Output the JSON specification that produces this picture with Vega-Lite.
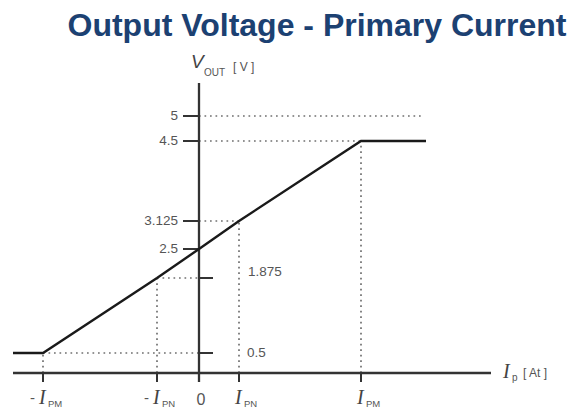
{
  "$schema": "https://vega.github.io/schema/vega-lite/v6.json",
  "autosize": "none",
  "width": 578,
  "height": 366,
  "padding": {"top": 48, "left": 0, "right": 0, "bottom": 0},
  "background": "white",
  "config": {"view": {"stroke": null}, "text": {"font": "Liberation Sans", "color": "#555555"}},
  "title": {
    "text": "Output Voltage - Primary Current",
    "anchor": "middle",
    "frame": "group",
    "dx": 28,
    "offset": -20,
    "baseline": "alphabetic",
    "font": "Liberation Sans",
    "fontSize": 32,
    "fontWeight": "bold",
    "color": "#1c4172"
  },
  "encoding": {
    "x": {"field": "x", "type": "quantitative", "axis": null,
      "scale": {"domain": [-4.8, -4, -1, 0, 1, 4, 7.2], "range": [13, 43, 157, 199, 239, 361, 491], "nice": false, "zero": false}},
    "y": {"field": "y", "type": "quantitative", "axis": null,
      "scale": {"domain": [0, 0.5, 1.875, 2.5, 3.125, 4.5, 5], "range": [325, 305, 230, 201, 173, 93, 68], "nice": false, "zero": false}}
  },
  "layer": [
    {
      "data": {"values": [
        {"x": 0, "x2": 5.5, "y": 5, "y2": 5},
        {"x": 0, "x2": 4, "y": 4.5, "y2": 4.5},
        {"x": 4, "x2": 4, "y": 0, "y2": 4.5},
        {"x": 0, "x2": 1, "y": 3.125, "y2": 3.125},
        {"x": 1, "x2": 1, "y": 0, "y2": 3.125},
        {"x": -1, "x2": 0, "y": 1.875, "y2": 1.875},
        {"x": -1, "x2": -1, "y": 0, "y2": 1.875},
        {"x": -4, "x2": 0, "y": 0.5, "y2": 0.5},
        {"x": -4, "x2": -4, "y": 0, "y2": 0.5}
      ]},
      "mark": {"type": "rule", "color": "#707070", "strokeWidth": 1.7, "strokeDash": [1.7, 3.8]},
      "encoding": {"x2": {"field": "x2"}, "y2": {"field": "y2"}}
    },
    {
      "data": {"values": [
        {"x": -4.8, "x2": 7.2, "y": 0, "y2": 0},
        {"x": 0, "x2": 0, "y": -0.225, "y2": 5.66}
      ]},
      "mark": {"type": "rule", "color": "#333333", "strokeWidth": 2.3},
      "encoding": {"x2": {"field": "x2"}, "y2": {"field": "y2"}}
    },
    {
      "data": {"values": [{"x": 0, "y": 2.5}, {"x": 0, "y": 3.125}, {"x": 0, "y": 4.5}, {"x": 0, "y": 5}]},
      "mark": {"type": "tick", "orient": "horizontal", "size": 16, "thickness": 2, "xOffset": -8, "color": "#333333", "opacity": 1}
    },
    {
      "data": {"values": [{"x": 0, "y": 0.5}, {"x": 0, "y": 1.875}]},
      "mark": {"type": "tick", "orient": "horizontal", "size": 14, "thickness": 2, "xOffset": 7, "color": "#333333", "opacity": 1}
    },
    {
      "data": {"values": [{"x": -4, "y": 0}, {"x": -1, "y": 0}, {"x": 0, "y": 0}, {"x": 1, "y": 0}, {"x": 4, "y": 0}]},
      "mark": {"type": "tick", "orient": "vertical", "size": 9, "thickness": 2, "yOffset": 4.5, "color": "#333333", "opacity": 1}
    },
    {
      "data": {"values": [
        {"x": -4.8, "y": 0.5},
        {"x": -4, "y": 0.5},
        {"x": -1, "y": 1.875},
        {"x": 0, "y": 2.5},
        {"x": 1, "y": 3.125},
        {"x": 4, "y": 4.5},
        {"x": 5.6, "y": 4.5}
      ]},
      "mark": {"type": "line", "color": "#1a1a1a", "strokeWidth": 2.4}
    },
    {
      "data": {"values": [
        {"x": 0, "y": 5, "label": "5"},
        {"x": 0, "y": 4.5, "label": "4.5"},
        {"x": 0, "y": 3.125, "label": "3.125"},
        {"x": 0, "y": 2.5, "label": "2.5"}
      ]},
      "mark": {"type": "text", "align": "right", "baseline": "middle", "dx": -21, "fontSize": 13.5},
      "encoding": {"text": {"field": "label"}}
    },
    {
      "data": {"values": [{"x": 0, "y": 1.875, "label": "1.875"}]},
      "mark": {"type": "text", "align": "left", "baseline": "middle", "dx": 49, "dy": -6, "fontSize": 13.5},
      "encoding": {"text": {"field": "label"}}
    },
    {
      "data": {"values": [{"x": 0, "y": 0.5, "label": "0.5"}]},
      "mark": {"type": "text", "align": "left", "baseline": "middle", "dx": 48, "dy": 0, "fontSize": 13.5},
      "encoding": {"text": {"field": "label"}}
    },
    {
      "data": {"values": [{"x": -4, "y": 0}, {"x": -1, "y": 0}, {"x": 1, "y": 0}, {"x": 4, "y": 0}]},
      "mark": {"type": "text", "text": "I", "align": "left", "baseline": "alphabetic", "dx": -4, "dy": 31, "font": "Liberation Serif", "fontStyle": "italic", "fontSize": 20, "color": "#444444"}
    },
    {
      "data": {"values": [
        {"x": -4, "y": 0, "sub": "PM"},
        {"x": -1, "y": 0, "sub": "PN"},
        {"x": 1, "y": 0, "sub": "PN"},
        {"x": 4, "y": 0, "sub": "PM"}
      ]},
      "mark": {"type": "text", "align": "left", "baseline": "alphabetic", "dx": 5, "dy": 34, "fontSize": 9.5, "color": "#555555"},
      "encoding": {"text": {"field": "sub"}}
    },
    {
      "data": {"values": [{"x": -4, "y": 0}, {"x": -1, "y": 0}]},
      "mark": {"type": "text", "text": "-", "align": "right", "baseline": "alphabetic", "dx": -8, "dy": 30, "fontSize": 15, "color": "#555555"}
    },
    {
      "data": {"values": [{"x": 0, "y": 0, "label": "0"}]},
      "mark": {"type": "text", "align": "center", "baseline": "alphabetic", "dx": 2, "dy": 32, "fontSize": 16, "color": "#555555"},
      "encoding": {"text": {"field": "label"}}
    },
    {
      "data": {"values": [{"x": 0, "y": 5.66}]},
      "mark": {"type": "text", "text": "V", "align": "left", "baseline": "alphabetic", "dx": -8, "dy": -15, "fontSize": 19, "fontStyle": "italic", "color": "#444444"}
    },
    {
      "data": {"values": [{"x": 0, "y": 5.66}]},
      "mark": {"type": "text", "text": "OUT", "align": "left", "baseline": "alphabetic", "dx": 5, "dy": -7, "fontSize": 10, "color": "#555555"}
    },
    {
      "data": {"values": [{"x": 0, "y": 5.66}]},
      "mark": {"type": "text", "text": "[ V ]", "align": "left", "baseline": "middle", "dx": 34, "dy": -16, "fontSize": 12, "color": "#555555"}
    },
    {
      "data": {"values": [{"x": 7.2, "y": 0}]},
      "mark": {"type": "text", "text": "I", "align": "left", "baseline": "alphabetic", "dx": 12, "dy": 5, "font": "Liberation Serif", "fontStyle": "italic", "fontSize": 20, "color": "#444444"}
    },
    {
      "data": {"values": [{"x": 7.2, "y": 0}]},
      "mark": {"type": "text", "text": "p", "align": "left", "baseline": "alphabetic", "dx": 21, "dy": 8, "fontSize": 10, "color": "#555555"}
    },
    {
      "data": {"values": [{"x": 7.2, "y": 0}]},
      "mark": {"type": "text", "text": "[ At ]", "align": "left", "baseline": "middle", "dx": 32, "dy": 0, "fontSize": 12, "color": "#555555"}
    }
  ]
}
